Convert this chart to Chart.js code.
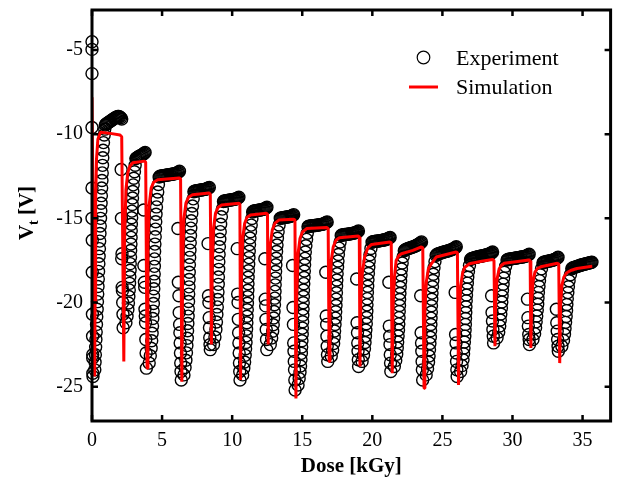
<!DOCTYPE html>
<html><head><meta charset="utf-8">
<script src="https://cdn.jsdelivr.net/npm/chart.js@4.4.1/dist/chart.umd.min.js"></script>
<style>html,body{margin:0;padding:0;background:#fff;}canvas{display:block;}</style>
</head><body>
<canvas id="c" width="618" height="483"></canvas>
<script>
// ---- tick labels / texts ----
const xTickValues = [0, 5, 10, 15, 20, 25, 30, 35];
const yTickValues = [-25, -20, -15, -10, -5];
const seriesNames = ['Experiment', 'Simulation'];
const xTitle = 'Dose [kGy]';
const yTitleParts = ['V', 't', ' [V]'];

// ---- Experiment: [dose kGy, Vt V] per cycle (drop column, recovery, saturation) ----
const cycle01 = [[0,-4.5],[0,-4.96],[0,-6.4],[0,-9.6],[0,-13.2],[0,-15.0],[0.02,-16.3],[0.02,-18.2],[0.03,-20.7],[0.04,-22.0],[0.05,-23.1],[0.05,-23.3],[0.06,-24.2],[0.07,-24.4],
 [0.2,-24.0],[0.22,-23.55],[0.24,-23.1],[0.26,-22.65],[0.28,-22.2],[0.3,-21.75],[0.32,-21.3],[0.34,-20.85],[0.37,-20.4],[0.39,-19.95],[0.41,-19.5],[0.43,-19.05],[0.45,-18.6],[0.47,-18.15],[0.49,-17.7],[0.51,-17.25],[0.53,-16.8],[0.55,-16.35],[0.57,-15.9],[0.59,-15.45],[0.61,-15.0],[0.63,-14.55],[0.65,-14.1],[0.67,-13.65],[0.69,-13.2],[0.71,-12.75],[0.73,-12.3],[0.75,-11.85],[0.77,-11.4],[0.79,-10.95],[0.82,-10.5],[0.87,-10.05],[0.91,-9.7],[0.95,-9.45],
 [1.0,-9.4],[1.07,-9.36],[1.14,-9.32],[1.21,-9.28],[1.28,-9.24],[1.35,-9.2],[1.42,-9.16],[1.49,-9.12],[1.56,-9.08],[1.63,-9.04],[1.7,-9.0],[1.77,-8.97],[1.84,-8.95],[1.91,-8.95],[1.98,-8.97],[2.05,-9.02],[2.12,-9.1]];
const cycle02 = [[2.08,-12.1],[2.1,-15.0],[2.14,-17.1],[2.12,-17.4],[2.15,-19.1],[2.17,-19.3],[2.19,-20.0],[2.21,-20.7],[2.22,-21.5],
 [2.42,-21.2],[2.5,-20.81],[2.56,-20.42],[2.6,-20.03],[2.63,-19.64],[2.66,-19.25],[2.68,-18.86],[2.7,-18.47],[2.72,-18.08],[2.73,-17.69],[2.75,-17.3],[2.76,-16.91],[2.78,-16.52],[2.79,-16.13],[2.8,-15.74],[2.81,-15.35],[2.83,-14.96],[2.85,-14.57],[2.87,-14.18],[2.89,-13.79],[2.91,-13.4],[2.94,-13.01],[2.98,-12.62],[3.03,-12.23],[3.08,-11.84],[3.13,-11.45],
 [3.17,-11.42],[3.24,-11.38],[3.31,-11.34],[3.38,-11.31],[3.45,-11.28],[3.52,-11.25],[3.59,-11.22],[3.66,-11.18],[3.73,-11.13],[3.79,-11.08]];
const cycle03 = [[3.69,-14.5],[3.7,-17.8],[3.74,-18.8],[3.76,-19.1],[3.78,-20.4],[3.8,-20.8],[3.82,-21.2],[3.84,-22.2],[3.86,-23.0],[3.88,-23.9],
 [4.08,-23.6],[4.16,-23.16],[4.22,-22.72],[4.26,-22.27],[4.29,-21.83],[4.32,-21.39],[4.34,-20.95],[4.36,-20.51],[4.38,-20.06],[4.39,-19.62],[4.41,-19.18],[4.42,-18.74],[4.44,-18.3],[4.45,-17.85],[4.46,-17.41],[4.47,-16.97],[4.49,-16.53],[4.51,-16.09],[4.53,-15.64],[4.55,-15.2],[4.57,-14.76],[4.6,-14.32],[4.64,-13.88],[4.69,-13.43],[4.74,-12.99],[4.79,-12.55],
 [4.84,-12.5],[4.91,-12.49],[4.98,-12.48],[5.05,-12.47],[5.12,-12.46],[5.19,-12.45],[5.26,-12.44],[5.33,-12.43],[5.4,-12.42],[5.47,-12.41],[5.54,-12.4],[5.61,-12.39],[5.68,-12.38],[5.75,-12.37],[5.82,-12.36],[5.89,-12.35],[5.96,-12.33],[6.03,-12.31],[6.1,-12.28],[6.17,-12.25],[6.24,-12.2]];
const cycle04 = [[6.13,-15.6],[6.16,-18.8],[6.2,-19.6],[6.22,-20.6],[6.25,-21.3],[6.27,-21.8],[6.29,-22.4],[6.31,-23.0],[6.33,-23.6],[6.35,-24.1],[6.37,-24.6],
 [6.56,-24.3],[6.64,-23.86],[6.7,-23.43],[6.74,-22.99],[6.77,-22.56],[6.8,-22.12],[6.82,-21.68],[6.84,-21.25],[6.86,-20.81],[6.87,-20.38],[6.89,-19.94],[6.9,-19.5],[6.92,-19.07],[6.93,-18.63],[6.94,-18.2],[6.95,-17.76],[6.97,-17.32],[6.99,-16.89],[7.01,-16.45],[7.03,-16.02],[7.05,-15.58],[7.08,-15.14],[7.12,-14.71],[7.17,-14.27],[7.22,-13.84],[7.27,-13.42],
 [7.32,-13.38],[7.39,-13.37],[7.46,-13.36],[7.53,-13.35],[7.6,-13.34],[7.67,-13.33],[7.74,-13.32],[7.81,-13.31],[7.88,-13.3],[7.95,-13.29],[8.02,-13.28],[8.09,-13.27],[8.16,-13.25],[8.23,-13.23],[8.3,-13.2],[8.37,-13.16]];
const cycle05 = [[8.28,-16.5],[8.31,-19.6],[8.34,-20.0],[8.36,-20.9],[8.38,-21.5],[8.4,-22.1],[8.42,-22.5],[8.44,-22.8],
 [8.67,-22.5],[8.77,-22.05],[8.84,-21.61],[8.88,-21.16],[8.91,-20.71],[8.94,-20.26],[8.97,-19.82],[8.99,-19.37],[9.01,-18.92],[9.02,-18.48],[9.04,-18.03],[9.05,-17.58],[9.07,-17.14],[9.09,-16.69],[9.12,-16.24],[9.15,-15.79],[9.18,-15.35],[9.23,-14.9],[9.3,-14.45],[9.38,-14.0],
 [9.43,-13.97],[9.5,-13.96],[9.57,-13.95],[9.64,-13.94],[9.71,-13.93],[9.78,-13.92],[9.85,-13.91],[9.92,-13.9],[9.99,-13.89],[10.06,-13.88],[10.13,-13.87],[10.2,-13.86],[10.27,-13.84],[10.34,-13.82],[10.41,-13.79],[10.48,-13.75]];
const cycle06 = [[10.36,-16.8],[10.39,-19.5],[10.42,-20.0],[10.44,-21.0],[10.46,-21.8],[10.48,-22.4],[10.5,-23.0],[10.52,-23.6],[10.54,-24.1],[10.56,-24.6],
 [10.75,-24.3],[10.83,-23.91],[10.89,-23.53],[10.93,-23.14],[10.96,-22.75],[10.99,-22.37],[11.01,-21.98],[11.03,-21.59],[11.05,-21.2],[11.06,-20.82],[11.08,-20.43],[11.09,-20.04],[11.11,-19.66],[11.12,-19.27],[11.13,-18.88],[11.14,-18.5],[11.16,-18.11],[11.18,-17.72],[11.2,-17.33],[11.22,-16.95],[11.24,-16.56],[11.27,-16.17],[11.31,-15.79],[11.36,-15.4],[11.41,-15.01],[11.46,-14.62],
 [11.51,-14.57],[11.58,-14.56],[11.65,-14.55],[11.72,-14.54],[11.79,-14.53],[11.86,-14.52],[11.93,-14.51],[12.0,-14.5],[12.07,-14.49],[12.14,-14.48],[12.21,-14.46],[12.28,-14.44],[12.35,-14.41],[12.42,-14.38],[12.48,-14.34]];
const cycle07 = [[12.33,-17.4],[12.36,-19.8],[12.39,-20.2],[12.41,-21.0],[12.43,-21.6],[12.45,-22.2],[12.47,-22.8],
 [12.72,-22.5],[12.82,-22.11],[12.89,-21.71],[12.93,-21.32],[12.96,-20.92],[12.99,-20.53],[13.02,-20.13],[13.04,-19.74],[13.06,-19.34],[13.07,-18.95],[13.09,-18.55],[13.1,-18.16],[13.12,-17.76],[13.14,-17.37],[13.17,-16.97],[13.2,-16.58],[13.23,-16.18],[13.28,-15.79],[13.35,-15.39],[13.43,-15.0],
 [13.48,-14.98],[13.55,-14.97],[13.62,-14.96],[13.69,-14.95],[13.76,-14.94],[13.83,-14.93],[13.9,-14.92],[13.97,-14.91],[14.04,-14.9],[14.11,-14.89],[14.18,-14.87],[14.25,-14.85],[14.32,-14.82],[14.39,-14.78]];
const cycle08 = [[14.31,-17.8],[14.34,-20.3],[14.37,-21.3],[14.39,-22.4],[14.41,-22.9],[14.43,-23.5],[14.45,-24.0],[14.47,-24.6],[14.49,-25.2],
 [14.7,-24.9],[14.78,-24.52],[14.84,-24.15],[14.88,-23.77],[14.91,-23.4],[14.94,-23.02],[14.96,-22.64],[14.98,-22.27],[15.0,-21.89],[15.01,-21.52],[15.03,-21.14],[15.04,-20.76],[15.06,-20.39],[15.07,-20.01],[15.08,-19.64],[15.09,-19.26],[15.11,-18.88],[15.13,-18.51],[15.15,-18.13],[15.17,-17.76],[15.19,-17.38],[15.22,-17.0],[15.26,-16.63],[15.31,-16.25],[15.36,-15.88],[15.41,-15.5],
 [15.46,-15.47],[15.53,-15.46],[15.6,-15.45],[15.67,-15.45],[15.74,-15.44],[15.81,-15.43],[15.88,-15.42],[15.95,-15.42],[16.02,-15.41],[16.09,-15.4],[16.16,-15.39],[16.23,-15.38],[16.3,-15.37],[16.37,-15.36],[16.44,-15.35],[16.51,-15.33],[16.58,-15.31],[16.65,-15.28],[16.72,-15.25],[16.78,-15.21]];
const cycle09 = [[16.68,-18.2],[16.71,-20.8],[16.74,-21.3],[16.76,-22.0],[16.78,-22.6],[16.8,-23.1],[16.82,-23.5],
 [17.07,-23.2],[17.17,-22.82],[17.24,-22.44],[17.28,-22.07],[17.31,-21.69],[17.34,-21.31],[17.37,-20.93],[17.39,-20.55],[17.41,-20.18],[17.42,-19.8],[17.44,-19.42],[17.45,-19.04],[17.47,-18.66],[17.49,-18.29],[17.52,-17.91],[17.55,-17.53],[17.58,-17.15],[17.63,-16.77],[17.7,-16.4],[17.78,-16.02],
 [17.83,-15.99],[17.9,-15.98],[17.97,-15.97],[18.04,-15.96],[18.11,-15.96],[18.18,-15.95],[18.25,-15.94],[18.32,-15.93],[18.39,-15.92],[18.46,-15.91],[18.53,-15.9],[18.6,-15.89],[18.67,-15.88],[18.74,-15.86],[18.81,-15.84],[18.88,-15.82],[18.95,-15.79],[19.01,-15.75]];
const cycle10 = [[18.88,-18.6],[18.91,-21.2],[18.94,-21.8],[18.96,-22.4],[18.98,-22.9],[19.0,-23.4],[19.02,-23.8],
 [19.27,-23.5],[19.37,-23.13],[19.44,-22.75],[19.48,-22.38],[19.51,-22.01],[19.54,-21.64],[19.57,-21.26],[19.59,-20.89],[19.61,-20.52],[19.62,-20.14],[19.64,-19.77],[19.65,-19.4],[19.67,-19.03],[19.69,-18.65],[19.72,-18.28],[19.75,-17.91],[19.78,-17.53],[19.83,-17.16],[19.9,-16.79],[19.98,-16.42],
 [20.03,-16.39],[20.1,-16.38],[20.17,-16.37],[20.24,-16.36],[20.31,-16.36],[20.38,-16.35],[20.45,-16.34],[20.52,-16.33],[20.59,-16.32],[20.66,-16.31],[20.73,-16.3],[20.8,-16.29],[20.87,-16.28],[20.94,-16.26],[21.01,-16.24],[21.08,-16.22],[21.15,-16.19],[21.22,-16.16],[21.27,-16.13]];
const cycle11 = [[21.18,-18.8],[21.21,-21.4],[21.24,-22.0],[21.26,-22.5],[21.28,-23.1],[21.3,-23.6],[21.32,-24.1],
 [21.57,-23.8],[21.67,-23.44],[21.74,-23.08],[21.78,-22.71],[21.81,-22.35],[21.84,-21.99],[21.87,-21.63],[21.89,-21.27],[21.91,-20.9],[21.92,-20.54],[21.94,-20.18],[21.95,-19.82],[21.97,-19.46],[21.99,-19.09],[22.02,-18.73],[22.05,-18.37],[22.08,-18.01],[22.13,-17.65],[22.2,-17.28],[22.28,-16.92],
 [22.33,-16.88],[22.4,-16.85],[22.47,-16.82],[22.54,-16.8],[22.61,-16.78],[22.68,-16.76],[22.75,-16.74],[22.82,-16.72],[22.89,-16.7],[22.96,-16.68],[23.03,-16.66],[23.1,-16.63],[23.17,-16.6],[23.24,-16.57],[23.31,-16.53],[23.38,-16.49],[23.45,-16.45],[23.51,-16.4]];
const cycle12 = [[23.45,-19.6],[23.48,-21.8],[23.51,-22.4],[23.53,-22.9],[23.55,-23.5],[23.57,-24.0],[23.59,-24.6],
 [23.84,-24.3],[23.94,-23.93],[24.01,-23.55],[24.05,-23.18],[24.08,-22.8],[24.11,-22.43],[24.14,-22.06],[24.16,-21.68],[24.18,-21.31],[24.19,-20.93],[24.21,-20.56],[24.22,-20.19],[24.24,-19.81],[24.26,-19.44],[24.29,-19.06],[24.32,-18.69],[24.35,-18.32],[24.4,-17.94],[24.47,-17.57],[24.55,-17.2],
 [24.6,-17.15],[24.67,-17.12],[24.74,-17.1],[24.81,-17.08],[24.88,-17.06],[24.95,-17.04],[25.02,-17.02],[25.09,-17.0],[25.16,-16.99],[25.23,-16.97],[25.3,-16.96],[25.37,-16.94],[25.44,-16.92],[25.51,-16.9],[25.58,-16.88],[25.65,-16.86],[25.72,-16.83],[25.79,-16.8],[25.86,-16.77],[25.93,-16.73],[25.99,-16.69]];
const cycle13 = [[25.91,-19.4],[25.94,-21.9],[25.97,-22.4],[25.99,-23.0],[26.01,-23.5],[26.03,-24.0],[26.05,-24.4],
 [26.3,-24.1],[26.4,-23.75],[26.47,-23.4],[26.51,-23.05],[26.54,-22.7],[26.57,-22.35],[26.6,-22.0],[26.62,-21.65],[26.64,-21.3],[26.65,-20.95],[26.67,-20.6],[26.68,-20.25],[26.7,-19.9],[26.72,-19.55],[26.75,-19.2],[26.78,-18.85],[26.81,-18.5],[26.86,-18.15],[26.93,-17.8],[27.01,-17.45],
 [27.06,-17.4],[27.13,-17.38],[27.2,-17.36],[27.27,-17.34],[27.34,-17.33],[27.41,-17.31],[27.48,-17.3],[27.55,-17.28],[27.62,-17.27],[27.69,-17.26],[27.76,-17.24],[27.83,-17.23],[27.9,-17.22],[27.97,-17.2],[28.04,-17.19],[28.11,-17.17],[28.18,-17.16],[28.25,-17.14],[28.32,-17.12],[28.39,-17.1],[28.46,-17.07],[28.52,-17.04],[28.58,-17.0]];
const cycle14 = [[28.51,-19.6],[28.54,-20.6],[28.57,-21.1],[28.6,-21.6],[28.63,-22.0],[28.65,-22.4],
 [28.9,-22.1],[29.02,-21.75],[29.09,-21.39],[29.13,-21.04],[29.17,-20.68],[29.21,-20.33],[29.24,-19.97],[29.26,-19.62],[29.29,-19.26],[29.33,-18.91],[29.37,-18.55],[29.42,-18.2],[29.51,-17.84],[29.61,-17.48],
 [29.66,-17.44],[29.73,-17.43],[29.8,-17.42],[29.87,-17.41],[29.94,-17.4],[30.01,-17.39],[30.08,-17.38],[30.15,-17.37],[30.22,-17.36],[30.29,-17.35],[30.36,-17.34],[30.43,-17.33],[30.5,-17.32],[30.57,-17.31],[30.64,-17.3],[30.71,-17.29],[30.78,-17.28],[30.85,-17.27],[30.92,-17.25],[30.99,-17.23],[31.06,-17.2],[31.13,-17.17],[31.19,-17.13]];
const cycle15 = [[31.07,-19.8],[31.1,-20.9],[31.13,-21.4],[31.16,-21.9],[31.19,-22.2],[31.21,-22.5],
 [31.46,-22.2],[31.58,-21.85],[31.65,-21.5],[31.69,-21.15],[31.73,-20.8],[31.77,-20.45],[31.8,-20.1],[31.82,-19.75],[31.85,-19.4],[31.89,-19.05],[31.93,-18.7],[31.98,-18.35],[32.07,-18.0],[32.17,-17.65],
 [32.22,-17.61],[32.29,-17.6],[32.36,-17.58],[32.43,-17.57],[32.5,-17.55],[32.57,-17.54],[32.64,-17.53],[32.71,-17.52],[32.78,-17.5],[32.85,-17.49],[32.92,-17.47],[32.99,-17.45],[33.06,-17.42],[33.13,-17.39],[33.2,-17.35],[33.25,-17.31]];
const cycle16 = [[33.13,-20.4],[33.16,-21.2],[33.19,-21.7],[33.22,-22.2],[33.25,-22.6],[33.27,-22.9],
 [33.52,-22.6],[33.64,-22.25],[33.71,-21.89],[33.75,-21.54],[33.79,-21.18],[33.83,-20.83],[33.86,-20.48],[33.88,-20.12],[33.91,-19.77],[33.95,-19.41],[33.99,-19.06],[34.04,-18.71],[34.13,-18.35],[34.23,-18.0],
 [34.28,-17.95],[34.35,-17.93],[34.42,-17.91],[34.49,-17.89],[34.56,-17.87],[34.63,-17.85],[34.7,-17.83],[34.77,-17.81],[34.84,-17.79],[34.91,-17.77],[34.98,-17.76],[35.05,-17.74],[35.12,-17.72],[35.19,-17.71],[35.26,-17.69],[35.33,-17.68],[35.4,-17.66],[35.47,-17.65],[35.54,-17.63],[35.61,-17.62],[35.67,-17.6]];

// ---- Simulation: [dose kGy, Vt V] ----
const simulation = [[0,-7.8],[0.19,-24.4],[0.22,-20.0],[0.26,-14.0],[0.32,-11.5],[0.42,-10.3],[0.6,-9.88],[1.3,-9.95],[2.0,-10.05],[2.12,-10.15],
 [2.27,-23.5],[2.33,-16.0],[2.42,-13.3],[2.55,-12.3],[2.7,-11.9],[2.91,-11.7],[3.74,-11.6],[3.83,-11.65],
 [3.93,-23.9],[3.99,-16.5],[4.08,-14.2],[4.22,-13.2],[4.4,-12.85],[4.69,-12.7],[6.23,-12.6],[6.32,-12.65],
 [6.41,-24.7],[6.47,-17.5],[6.56,-15.0],[6.7,-14.1],[6.88,-13.75],[7.17,-13.6],[8.36,-13.5],[8.44,-13.55],
 [8.52,-22.5],[8.58,-17.8],[8.67,-15.6],[8.81,-14.7],[8.99,-14.35],[9.25,-14.2],[10.49,-14.1],[10.55,-14.15],
 [10.6,-24.6],[10.66,-18.5],[10.75,-16.2],[10.89,-15.3],[11.05,-14.95],[11.31,-14.8],[12.45,-14.7],[12.52,-14.75],
 [12.57,-22.5],[12.63,-18.8],[12.72,-16.6],[12.86,-15.7],[13.04,-15.3],[13.33,-15.1],[14.39,-15.05],[14.48,-15.1],
 [14.55,-25.7],[14.61,-19.5],[14.7,-17.1],[14.84,-16.2],[15.02,-15.8],[15.33,-15.6],[16.75,-15.55],[16.85,-15.6],
 [16.92,-23.5],[16.98,-19.6],[17.07,-17.5],[17.21,-16.7],[17.4,-16.3],[17.65,-16.15],[19.0,-16.05],[19.07,-16.1],
 [19.12,-23.8],[19.18,-20.0],[19.28,-18.3],[19.45,-17.3],[19.68,-16.75],[19.95,-16.55],[21.25,-16.4],[21.35,-16.45],
 [21.42,-24.2],[21.48,-20.2],[21.58,-18.5],[21.7,-17.5],[21.9,-17.2],[22.08,-17.1],[22.9,-16.9],[23.5,-16.7],[23.6,-16.75],
 [23.69,-25.1],[23.75,-20.5],[23.85,-18.8],[24.0,-18.0],[24.21,-17.7],[24.56,-17.3],[25.27,-17.15],[25.98,-17.0],[26.07,-17.05],
 [26.15,-24.9],[26.21,-20.6],[26.31,-19.0],[26.45,-18.2],[26.6,-17.9],[26.93,-17.7],[27.8,-17.55],[28.59,-17.45],[28.68,-17.5],
 [28.75,-22.6],[28.81,-19.8],[28.9,-18.6],[29.05,-18.0],[29.2,-17.8],[29.41,-17.67],[31.19,-17.48],[31.26,-17.52],
 [31.31,-22.7],[31.37,-19.9],[31.46,-18.8],[31.6,-18.2],[31.78,-17.98],[32.02,-17.88],[33.2,-17.67],[33.3,-17.7],
 [33.37,-23.6],[33.43,-20.2],[33.52,-19.0],[33.66,-18.5],[33.85,-18.25],[34.15,-18.1],[34.6,-17.98],[35.69,-17.85]];

const experiment = [].concat(cycle01, cycle02, cycle03, cycle04, cycle05, cycle06, cycle07, cycle08,
  cycle09, cycle10, cycle11, cycle12, cycle13, cycle14, cycle15, cycle16);

const FONT = '"Liberation Serif", "Times New Roman", serif';

const framePlugin = {
  id: 'frame',
  afterDatasetsDraw(chart) {
    const {ctx, chartArea: a, scales: {x, y}} = chart;
    ctx.save();
    ctx.strokeStyle = '#000';
    ctx.lineWidth = 3;
    ctx.strokeRect(a.left, a.top, a.right - a.left, a.bottom - a.top);
    ctx.lineWidth = 2.5;
    ctx.beginPath();
    x.ticks.forEach(t => {
      const p = x.getPixelForValue(t.value);
      ctx.moveTo(p, a.bottom); ctx.lineTo(p, a.bottom - 6);
      ctx.moveTo(p, a.top); ctx.lineTo(p, a.top + 6);
    });
    y.ticks.forEach(t => {
      const p = y.getPixelForValue(t.value);
      ctx.moveTo(a.left, p); ctx.lineTo(a.left + 6, p);
      ctx.moveTo(a.right, p); ctx.lineTo(a.right - 6, p);
    });
    ctx.stroke();

    // legend
    ctx.lineWidth = 1.2;
    ctx.strokeStyle = '#000';
    ctx.beginPath(); ctx.arc(423.5, 57.5, 6.3, 0, Math.PI * 2); ctx.stroke();
    ctx.strokeStyle = '#ff0000';
    ctx.lineWidth = 3;
    ctx.beginPath(); ctx.moveTo(409, 87); ctx.lineTo(438, 87); ctx.stroke();
    ctx.fillStyle = '#000';
    ctx.textBaseline = 'alphabetic';
    ctx.textAlign = 'left';
    ctx.font = '22px ' + FONT;
    ctx.fillText(seriesNames[0], 456, 65);
    ctx.fillText(seriesNames[1], 456, 94);

    // y axis title with subscript
    ctx.translate(33, 213);
    ctx.rotate(-Math.PI / 2);
    const f1 = 'bold 21px ' + FONT, f2 = 'bold 14px ' + FONT;
    ctx.font = f1;
    const wV = ctx.measureText(yTitleParts[0]).width;
    const wR = ctx.measureText(yTitleParts[2]).width;
    ctx.font = f2;
    const wt = ctx.measureText(yTitleParts[1]).width;
    const x0 = -(wV + wt + wR) / 2;
    ctx.font = f1; ctx.fillText(yTitleParts[0], x0, 0);
    ctx.font = f2; ctx.fillText(yTitleParts[1], x0 + wV, 5);
    ctx.font = f1; ctx.fillText(yTitleParts[2], x0 + wV + wt, 0);
    ctx.restore();
  }
};

new Chart(document.getElementById('c'), {
  type: 'scatter',
  data: {
    datasets: [
      {
        label: seriesNames[1],
        data: simulation.map(([x, y]) => ({x, y})),
        showLine: true,
        borderColor: '#ff0000',
        backgroundColor: '#ff0000',
        borderWidth: 3,
        pointRadius: 0,
        tension: 0,
        borderJoinStyle: 'bevel',
        fill: false,
        order: 0
      },
      {
        label: seriesNames[0],
        data: experiment.map(([x, y]) => ({x, y})),
        showLine: false,
        pointStyle: 'circle',
        pointRadius: 6,
        pointBorderWidth: 1.4,
        borderColor: '#000',
        pointBorderColor: '#000',
        backgroundColor: 'rgba(0,0,0,0)',
        pointBackgroundColor: 'rgba(0,0,0,0)',
        clip: false,
        order: 1
      }
    ]
  },
  options: {
    responsive: false,
    animation: false,
    devicePixelRatio: 1,
    events: [],
    layout: {padding: {left: 0, right: 5, top: 10, bottom: 0}},
    plugins: {legend: {display: false}, tooltip: {enabled: false}},
    scales: {
      x: {
        type: 'linear', min: 0, max: 37.0,
        afterBuildTicks: s => { s.ticks = xTickValues.map(v => ({value: v})); },
        afterFit: s => { s.height = 62; s.paddingLeft = 0; s.paddingRight = 0; },
        grid: {display: false, drawTicks: false},
        border: {display: false},
        ticks: {padding: 8, color: '#000', font: {family: FONT, size: 20}, maxRotation: 0, autoSkip: false},
        title: {display: true, text: xTitle, color: '#000', font: {family: FONT, size: 21, weight: 'bold'}, padding: {top: 0, bottom: 4}}
      },
      y: {
        type: 'linear', min: -27.04, max: -2.62,
        afterBuildTicks: s => { s.ticks = yTickValues.map(v => ({value: v})); },
        afterFit: s => { s.width = 92; s.paddingTop = 0; s.paddingBottom = 0; },
        grid: {display: false, drawTicks: false},
        border: {display: false},
        ticks: {padding: 9, color: '#000', font: {family: FONT, size: 20}, autoSkip: false}
      }
    }
  },
  plugins: [framePlugin]
});
</script>
</body></html>
